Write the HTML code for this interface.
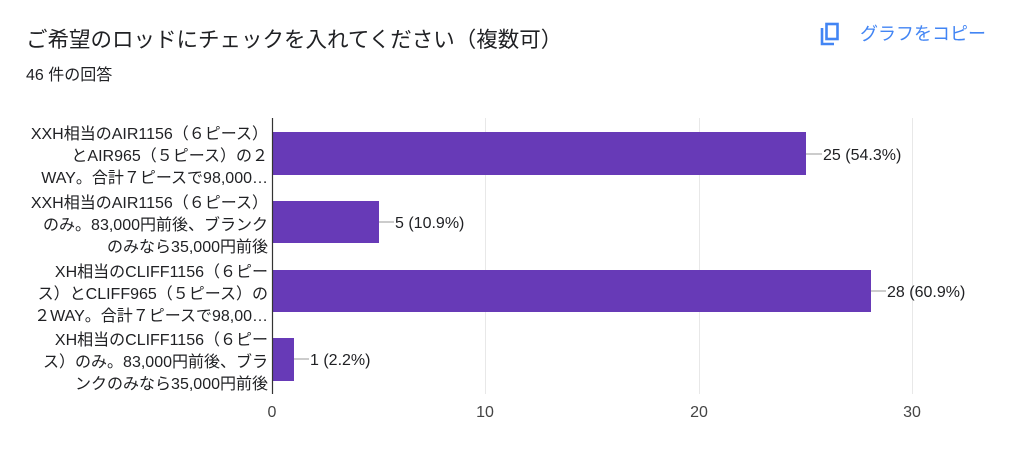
<!DOCTYPE html><html><head><meta charset="utf-8"><style>
body{margin:0;width:1024px;height:469px;background:#fff;overflow:hidden;font-family:"Liberation Sans","Noto Sans CJK JP",sans-serif}
</style></head><body>
<svg width="1024" height="469" xmlns="http://www.w3.org/2000/svg" font-family="Liberation Sans, Noto Sans CJK JP, sans-serif">
<text x="26" y="47" font-size="21.5" fill="#202124">ご希望のロッドにチェックを入れてください（複数可）</text>
<text x="26" y="80" font-size="16" fill="#202124">46 件の回答</text>
<g fill="none" stroke="#4285f4" stroke-width="2.6"><rect x="826.5" y="24" width="11" height="15"/><path d="M822 28v16h12"/></g>
<text x="860" y="40" font-size="18" fill="#4285f4">グラフをコピー</text>
<g stroke="#e8e8e8" stroke-width="1"><line x1="485.5" y1="118" x2="485.5" y2="394"/><line x1="699.5" y1="118" x2="699.5" y2="394"/><line x1="912.5" y1="118" x2="912.5" y2="394"/></g>
<g fill="#673ab7"><rect x="273" y="132" width="533" height="43"/><rect x="273" y="201" width="106" height="42"/><rect x="273" y="270" width="598" height="42"/><rect x="273" y="338" width="21" height="43"/></g>
<line x1="272.5" y1="118" x2="272.5" y2="394" stroke="#333" stroke-width="1.2"/>
<g stroke="#999"><line x1="806" y1="154" x2="822" y2="154"/><line x1="379" y1="222" x2="394" y2="222"/><line x1="871" y1="291" x2="886" y2="291"/><line x1="294" y1="359" x2="309" y2="359"/></g>
<g font-size="16" fill="#202124"><text x="823" y="160">25 (54.3%)</text><text x="395" y="228">5 (10.9%)</text><text x="887" y="297">28 (60.9%)</text><text x="310" y="365">1 (2.2%)</text></g>
<g font-size="16" fill="#202124" text-anchor="end">
<text x="268" y="139">XXH相当のAIR1156（６ピース）</text><text x="268" y="161">とAIR965（５ピース）の２</text><text x="268" y="183">WAY。合計７ピースで98,000…</text>
<text x="268" y="208">XXH相当のAIR1156（６ピース）</text><text x="268" y="230">のみ。83,000円前後、ブランク</text><text x="268" y="252">のみなら35,000円前後</text>
<text x="268" y="277">XH相当のCLIFF1156（６ピー</text><text x="268" y="299">ス）とCLIFF965（５ピース）の</text><text x="268" y="321">２WAY。合計７ピースで98,00…</text>
<text x="268" y="345">XH相当のCLIFF1156（６ピー</text><text x="268" y="367">ス）のみ。83,000円前後、ブラ</text><text x="268" y="389">ンクのみなら35,000円前後</text>
</g>
<g font-size="16" fill="#444" text-anchor="middle"><text x="272" y="417">0</text><text x="485" y="417">10</text><text x="699" y="417">20</text><text x="912" y="417">30</text></g>
</svg>
</body></html>
